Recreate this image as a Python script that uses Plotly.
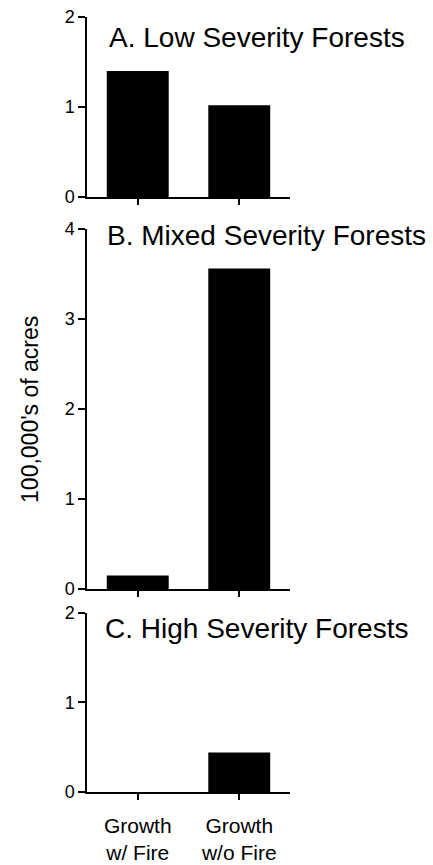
import plotly.graph_objects as go

categories = ["Growth<br>w/ Fire", "Growth<br>w/o Fire"]
panel_titles = ["A. Low Severity Forests", "B. Mixed Severity Forests", "C. High Severity Forests"]
low_severity = [1.40, 1.02]
mixed_severity = [0.15, 3.56]
high_severity = [0.0, 0.44]
y_max = [2, 4, 2]
y_label = "100,000's of acres"

series = [low_severity, mixed_severity, high_severity]

fig = go.Figure()
font_family = "Liberation Sans"

domains = [[0.7677, 1.0], [0.2619, 0.7265], [0.0, 0.2310]]
title_pos = [(0.0985, 0.973), (0.0887, 0.7187), (0.079, 0.2116)]
xpos = list(range(len(categories)))

for i, vals in enumerate(series):
    n = "" if i == 0 else str(i + 1)
    fig.add_trace(go.Bar(x=xpos, y=vals, width=0.61, marker=dict(color="black", line=dict(width=0)),
                         xaxis="x" + n, yaxis="y" + n, showlegend=False))
    fig.layout["xaxis" + n] = dict(
        domain=[0, 1], anchor="y" + n, range=[-0.5, 1.5], automargin=False,
        tickvals=xpos, ticktext=categories if i == 2 else ["", ""],
        showticklabels=(i == 2),
        ticks="outside", ticklen=6, tickwidth=1.5, tickcolor="black",
        showline=True, linecolor="black", linewidth=1.5,
        showgrid=False, zeroline=False, ticklabelstandoff=8,
        tickfont=dict(size=21, color="black", family=font_family),
    )
    fig.layout["yaxis" + n] = dict(
        domain=domains[i], anchor="x" + n, range=[0, y_max[i]], automargin=False,
        tickvals=list(range(0, y_max[i] + 1)),
        ticks="outside", ticklen=7, tickwidth=1.5, tickcolor="black",
        showline=True, linecolor="black", linewidth=1.5,
        showgrid=False, zeroline=False,
        tickfont=dict(size=18, color="black", family=font_family),
    )
    fig.add_annotation(text=panel_titles[i], xref="paper", yref="paper",
                       x=title_pos[i][0], y=title_pos[i][1], xanchor="left", yanchor="middle",
                       showarrow=False, font=dict(size=28, color="black", family=font_family))

fig.add_annotation(text=y_label, xref="paper", yref="paper", x=-0.281, y=(0.2619 + 0.7265) / 2,
                   xanchor="center", yanchor="middle", textangle=-90, showarrow=False,
                   font=dict(size=23, color="black", family=font_family))

fig.update_layout(
    width=433, height=865,
    margin=dict(l=87, r=143, t=17, b=73),
    plot_bgcolor="white", paper_bgcolor="white",
    font=dict(family=font_family, color="black"),
    bargap=0.39,
)

fig.write_html("out.html")
